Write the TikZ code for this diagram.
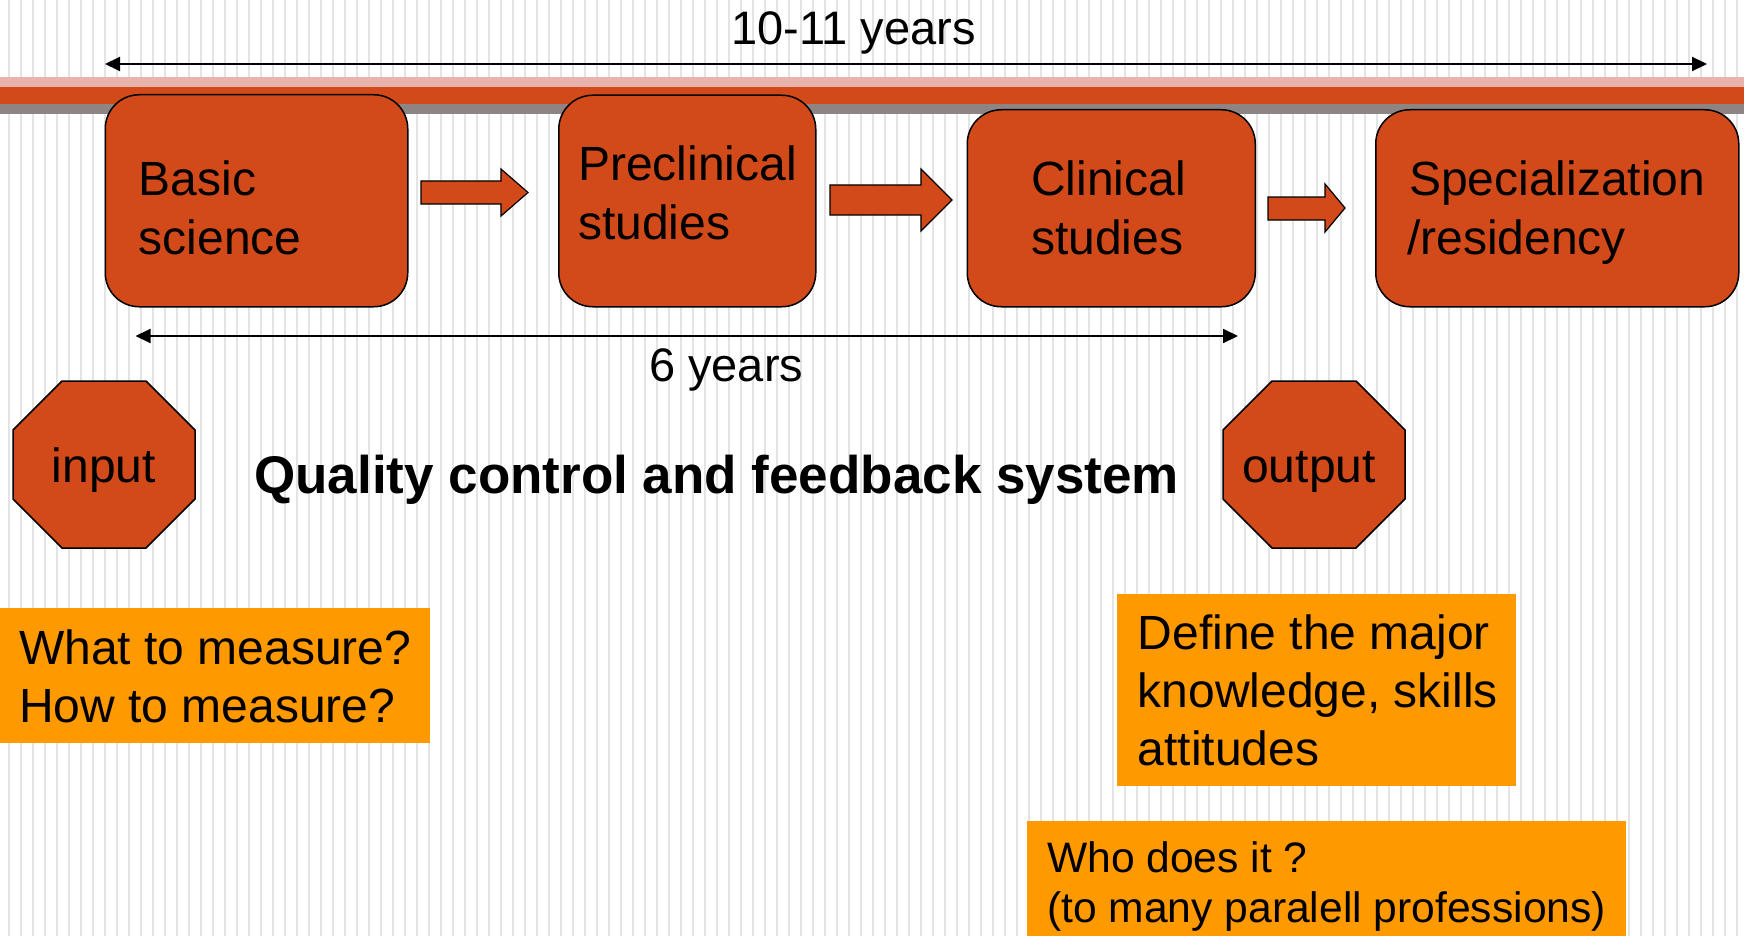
\documentclass[tikz,border=0pt]{standalone}
\usepackage{fontspec}
\setmainfont{Liberation Sans}
\usetikzlibrary{arrows.meta}
\definecolor{boxred}{RGB}{210,74,25}
\definecolor{bandpink}{RGB}{231,179,172}
\definecolor{bandgray}{RGB}{143,132,132}
\definecolor{qorange}{RGB}{255,153,0}
\definecolor{stripegray}{RGB}{228,228,228}
\begin{document}
\begin{tikzpicture}[x=1pt,y=-1pt,
  stagebox/.style={draw=black, line width=1.5pt, fill=boxred, rounded corners=34pt, inner sep=0pt, anchor=north west},
  blockarr/.style={draw=black, line width=1.2pt, fill=boxred, line join=miter},
  octo/.style={draw=black, line width=1.5pt, fill=boxred},
  notebox/.style={fill=qorange, draw=none},
  dimarrow/.style={line width=2pt, {Triangle[length=15pt,width=14pt]}-{Triangle[length=15pt,width=14pt]}},
  txt/.style={inner sep=0pt, anchor=base west, font=\fontsize{48}{57.6}\selectfont},
  yrtxt/.style={inner sep=0pt, anchor=base west, font=\fontsize{47}{56}\selectfont},
  smalltxt/.style={inner sep=0pt, anchor=base west, font=\fontsize{42.6}{51}\selectfont},
  boldtxt/.style={inner sep=0pt, anchor=base west, font=\fontsize{53}{63}\selectfont\bfseries}]
\useasboundingbox (0,0) rectangle (1744,936);
\fill[white] (0,0) rectangle (1744,936);
\foreach \i in {0,...,144} \draw[stripegray, line width=1.5pt] ({9+12*\i},0) -- ({9+12*\i},936);
% band
\fill[bandpink] (0,77) rectangle (1744,87);
\fill[boxred] (0,87) rectangle (1744,104);
\fill[bandgray] (0,104) rectangle (1744,114);
% top dimension arrow
\coordinate (topL) at (105,64);
\coordinate (topR) at (1707,64);
\draw[dimarrow] (topL) -- (topR);
\node[yrtxt] (t1011) at (731,45) {10-11 years};
% stage boxes
\node[stagebox, minimum width=302.5pt, minimum height=212pt] (basic) at (104.5,94) {};
\node[stagebox, minimum width=257pt, minimum height=211.5pt] (precl) at (558,94.5) {};
\node[stagebox, minimum width=288pt, minimum height=197pt] (clin) at (966.5,109) {};
\node[stagebox, minimum width=363pt, minimum height=197pt] (spec) at (1375,109) {};
\node[txt] (basicA) at (138.5,196) {Basic};
\node[txt] (basicB) at (138.5,254) {science};
\node[txt] (preclA) at (578,181) {Preclinical};
\node[txt] (preclB) at (578,239) {studies};
\node[txt] (clinA) at (1031,196) {Clinical};
\node[txt] (clinB) at (1031,254) {studies};
\node[txt] (specA) at (1409,196) {Specialization};
\node[txt] (specB) at (1407,254) {/residency};
% block arrows
\draw[blockarr] (421,181) -- (501,181) -- (501,169) -- (528,192.5) -- (501,216) -- (501,204) -- (421,204) -- cycle;
\draw[blockarr] (830,185) -- (921,185) -- (921,169) -- (952,200) -- (921,231) -- (921,215) -- (830,215) -- cycle;
\draw[blockarr] (1268,197) -- (1325,197) -- (1325,184) -- (1345,208) -- (1325,232) -- (1325,220) -- (1268,220) -- cycle;
% bottom dimension arrow
\coordinate (botL) at (135.5,336);
\coordinate (botR) at (1238,336);
\draw[dimarrow] (botL) -- (botR);
\node[yrtxt] (t6) at (649,381.7) {6 years};
% octagons
\draw[octo] (62,381) -- (146,381) -- (195,430) -- (195,499) -- (146,548) -- (62,548) -- (13,499) -- (13,430) -- cycle;
\node[txt, anchor=base] (input) at (104,482.7) {input};
\draw[octo] (1272,381) -- (1356,381) -- (1405,430) -- (1405,499) -- (1356,548) -- (1272,548) -- (1223,499) -- (1223,430) -- cycle;
\node[txt, anchor=base] (output) at (1309,482) {output};
\node[boldtxt] (qc) at (254,493) {Quality control and feedback system};
% note boxes
\fill[notebox] (0,608) rectangle (430,743);
\node[txt] (q1a) at (19,664) {What to measure?};
\node[txt] (q1b) at (19,722) {How to measure?};
\fill[notebox] (1117,594) rectangle (1516,786);
\node[txt] (q2a) at (1137.5,649) {Define the major};
\node[txt] (q2b) at (1137.5,707) {knowledge, skills};
\node[txt] (q2c) at (1137.5,765) {attitudes};
\fill[notebox] (1027,821) rectangle (1625.5,936);
\node[smalltxt] (q3a) at (1047,872) {Who does it ?};
\node[smalltxt] (q3b) at (1047,922) {(to many paralell professions)};
\end{tikzpicture}
\end{document}
